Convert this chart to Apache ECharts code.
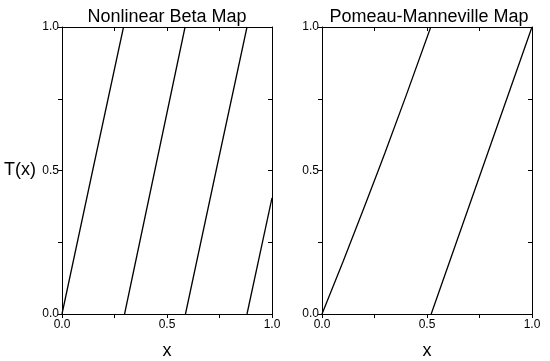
<!DOCTYPE html>
<html>
<head>
<meta charset="utf-8">
<script src="https://cdn.jsdelivr.net/npm/echarts@6/dist/echarts.min.js"></script>
<style>
html,body{margin:0;padding:0;background:#fff;}
#chart{width:550px;height:361px;}
</style>
</head>
<body>
<div id="chart"></div>
<script>
// Panel titles and axis titles
const panelTitles = ["Nonlinear Beta Map", "Pomeau-Manneville Map"];
const xAxisTitle = "x";
const yAxisTitle = "T(x)";
const tickValues = [0, 0.25, 0.5, 0.75, 1];
const tickLabels = ["0.0", "", "0.5", "", "1.0"];

// Nonlinear Beta Map branches (x, T(x))
const betaBranch1 = [[0, 0], [0.146, 0.5], [0.293, 1]];
const betaBranch2 = [[0.298, 0], [0.442, 0.5], [0.586, 1]];
const betaBranch3 = [[0.588, 0], [0.734, 0.5], [0.881, 1]];
const betaBranch4 = [[0.881, 0], [1.0, 0.405]];

// Pomeau-Manneville Map branches (x, T(x))
const pmBranch1 = [[0, 0], [0.1, 0.182], [0.2, 0.370], [0.268, 0.5], [0.3, 0.562], [0.4, 0.760], [0.518, 1]];
const pmBranch2 = [[0.52, 0], [0.76, 0.5], [1.0, 1]];

const chart = echarts.init(document.getElementById('chart'), null, {renderer: 'canvas'});

const font = "Liberation Sans, Arial, sans-serif";
const axisColor = '#000';

function labelFmt(v) {
  const i = tickValues.findIndex(t => Math.abs(t - v) < 1e-9);
  return i >= 0 ? tickLabels[i] : '';
}

const grids = [
  {left: 62, top: 27, width: 210, height: 287, containLabel: false, outerBoundsMode: 'none'},
  {left: 322, top: 27, width: 210, height: 287, containLabel: false, outerBoundsMode: 'none'}
];

function mainX(gi) {
  return {
    type: 'value', gridIndex: gi, min: 0, max: 1, interval: 0.25, position: 'bottom',
    name: xAxisTitle, nameLocation: 'middle', nameGap: 28,
    nameTextStyle: {fontFamily: font, fontSize: 18, color: '#000'},
    axisLine: {show: true, onZero: false, lineStyle: {color: axisColor, width: 1}},
    axisTick: {show: true, inside: false, length: 4, lineStyle: {color: axisColor}},
    axisLabel: {show: true, formatter: labelFmt, fontFamily: font, fontSize: 12, color: '#000', margin: 5, showMinLabel: true, showMaxLabel: true},
    splitLine: {show: false}
  };
}
function topX(gi) {
  return {
    type: 'value', gridIndex: gi, min: 0, max: 1, interval: 0.25, position: 'top',
    axisLine: {show: true, onZero: false, lineStyle: {color: axisColor, width: 1}},
    axisTick: {show: true, inside: true, length: 4, lineStyle: {color: axisColor}},
    axisLabel: {show: false}, splitLine: {show: false}
  };
}
function mainY(gi, withName) {
  return {
    type: 'value', gridIndex: gi, min: 0, max: 1, interval: 0.25, position: 'left',
    name: withName ? yAxisTitle : '', nameLocation: 'middle', nameGap: 26, nameRotate: 0,
    nameTextStyle: {fontFamily: font, fontSize: 18, color: '#000', align: 'right'},
    axisLine: {show: true, onZero: false, lineStyle: {color: axisColor, width: 1}},
    axisTick: {show: true, inside: false, length: 4, lineStyle: {color: axisColor}},
    axisLabel: {show: true, formatter: labelFmt, fontFamily: font, fontSize: 12, color: '#000', margin: 3, showMinLabel: true, showMaxLabel: true},
    splitLine: {show: false}
  };
}
function rightY(gi) {
  return {
    type: 'value', gridIndex: gi, min: 0, max: 1, interval: 0.25, position: 'right',
    axisLine: {show: true, onZero: false, lineStyle: {color: axisColor, width: 1}},
    axisTick: {show: true, inside: true, length: 4, lineStyle: {color: axisColor}},
    axisLabel: {show: false}, splitLine: {show: false}
  };
}

function lineSeries(data, xi, yi) {
  return {
    type: 'line', xAxisIndex: xi, yAxisIndex: yi, data: data,
    showSymbol: false, symbol: 'none', smooth: false, clip: true,
    lineStyle: {color: '#000', width: 1.3}, animation: false, silent: true
  };
}

const option = {
  animation: false,
  backgroundColor: '#fff',
  title: [
    {text: panelTitles[0], left: 162, top: 3, textAlign: 'center',
     textStyle: {fontFamily: font, fontSize: 18, fontWeight: 'normal', color: '#000'}},
    {text: panelTitles[1], left: 424, top: 3, textAlign: 'center',
     textStyle: {fontFamily: font, fontSize: 18, fontWeight: 'normal', color: '#000'}}
  ],
  grid: grids,
  xAxis: [mainX(0), topX(0), mainX(1), topX(1)],
  yAxis: [mainY(0, true), rightY(0), mainY(1, false), rightY(1)],
  series: [
    lineSeries(betaBranch1, 0, 0),
    lineSeries(betaBranch2, 0, 0),
    lineSeries(betaBranch3, 0, 0),
    lineSeries(betaBranch4, 0, 0),
    lineSeries(pmBranch1, 2, 2),
    lineSeries(pmBranch2, 2, 2)
  ]
};
chart.setOption(option);
</script>
</body>
</html>
